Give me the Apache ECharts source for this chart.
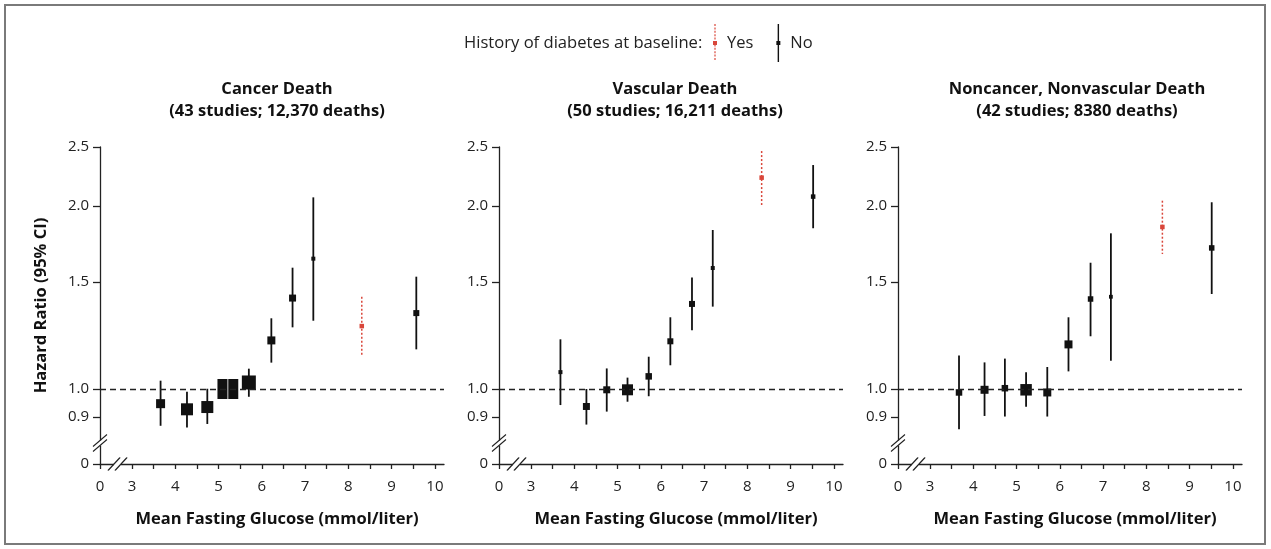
<!DOCTYPE html>
<html><head><meta charset="utf-8">
<script src="https://cdn.jsdelivr.net/npm/echarts@6/dist/echarts.min.js"></script>
<style>html,body{margin:0;padding:0;background:#fff}#c{width:1271px;height:549px}</style>
</head><body><div id="c"></div>
<script>
// ---------------- data ----------------
const panelTitles = ['Cancer Death', 'Vascular Death', 'Noncancer, Nonvascular Death'];
const panelSubtitles = ['(43 studies; 12,370 deaths)', '(50 studies; 16,211 deaths)', '(42 studies; 8380 deaths)'];
const legendTitle = 'History of diabetes at baseline:';
const legendNames = ['Yes', 'No'];
const xAxisTitle = 'Mean Fasting Glucose (mmol/liter)';
const yAxisTitle = 'Hazard Ratio (95% CI)';

// broken axes: the "0" tick is drawn just before the break
const X_ZERO = 2.26;
const Y_ZERO = 0.7528;
const xTickValues = [X_ZERO, 3, 4, 5, 6, 7, 8, 9, 10];
const xTickLabels = ['0', '3', '4', '5', '6', '7', '8', '9', '10'];
const xTickMarks = [X_ZERO, 3, 3.5, 4, 4.5, 5, 5.5, 6, 6.5, 7, 7.5, 8, 8.5, 9, 9.5, 10];
const yTickValues = [Y_ZERO, 0.9, 1.0, 1.5, 2.0, 2.5];
const yTickLabels = ['0', '0.9', '1.0', '1.5', '2.0', '2.5'];

// Cancer death
const cancerNoX  = [3.66, 4.27, 4.74, 5.09, 5.34, 5.70, 6.22, 6.71, 7.19, 9.57];
const cancerNoHR = [0.946, 0.926, 0.934, 1.000, 1.000, 1.025, 1.202, 1.411, 1.638, 1.333];
const cancerNoLo = [0.870, 0.864, 0.876, 0.970, 0.970, 0.971, 1.105, 1.263, 1.295, 1.162];
const cancerNoHi = [1.032, 0.990, 1.001, 1.030, 1.030, 1.080, 1.307, 1.583, 2.066, 1.530];
const cancerYesX  = [8.31];
const cancerYesHR = [1.269];
const cancerYesLo = [1.135];
const cancerYesHi = [1.418];

// Vascular death
const vascNoX  = [3.68, 4.28, 4.75, 5.23, 5.72, 6.22, 6.72, 7.20, 9.52];
const vascNoHR = [1.066, 0.936, 0.997, 0.997, 1.049, 1.198, 1.380, 1.581, 2.072];
const vascNoLo = [0.941, 0.874, 0.918, 0.953, 0.973, 1.094, 1.249, 1.366, 1.838];
const vascNoHi = [1.207, 1.000, 1.081, 1.044, 1.130, 1.312, 1.526, 1.826, 2.335];
const vascYesX  = [8.33];
const vascYesHR = [2.226];
const vascYesLo = [2.007];
const vascYesHi = [2.462];

// Noncancer, nonvascular death
const otherNoX  = [3.67, 4.26, 4.73, 5.22, 5.71, 6.20, 6.71, 7.18, 9.51];
const otherNoHR = [0.987, 0.997, 1.003, 0.997, 0.987, 1.184, 1.406, 1.418, 1.706];
const otherNoLo = [0.859, 0.903, 0.901, 0.935, 0.901, 1.069, 1.221, 1.113, 1.433];
const otherNoHi = [1.135, 1.106, 1.122, 1.065, 1.087, 1.312, 1.613, 1.803, 2.028];
const otherYesX  = [8.37];
const otherYesHR = [1.847];
const otherYesLo = [1.667];
const otherYesHi = [2.040];

// ---------------- styling (marker box sizes, px) ----------------
const cancerNoBox = [9, 12, 12, [10, 20], [10, 20], 14, 8, 7, 4, 6];
const vascNoBox   = [4, 7, 7, 11, 6.5, 6, 6, 4, 4.5];
const otherNoBox  = [6.5, 8, 6.5, 11.5, 8, 8, 5.5, 3.8, 5.5];
const yesBox = 4.5;

const RED = '#d9463a';
const INK = '#111';
const TXT = '#222';
const FONT = '"Open Sans", "Noto Sans", sans-serif';

const panels = [
  { no: [cancerNoX, cancerNoHR, cancerNoLo, cancerNoHi], yes: [cancerYesX, cancerYesHR, cancerYesLo, cancerYesHi], box: cancerNoBox },
  { no: [vascNoX, vascNoHR, vascNoLo, vascNoHi], yes: [vascYesX, vascYesHR, vascYesLo, vascYesHi], box: vascNoBox },
  { no: [otherNoX, otherNoHR, otherNoLo, otherNoHi], yes: [otherYesX, otherYesHR, otherYesLo, otherYesHi], box: otherNoBox }
];

const gridLefts = [100, 499, 898];
const titleCenters = [277, 675, 1077];

function errBar(color, width, dash) {
  return function (params, api) {
    const hi = api.coord([api.value(0), api.value(2)]);
    const lo = api.coord([api.value(0), api.value(1)]);
    return { type: 'line', shape: { x1: hi[0], y1: hi[1], x2: lo[0], y2: lo[1] },
      style: { stroke: color, lineWidth: width, lineDash: dash || null } };
  };
}

function labelFor(vals, labels) {
  return function (v) {
    for (let i = 0; i < vals.length; i++) if (Math.abs(vals[i] - v) < 1e-3) return labels[i];
    return '';
  };
}

// legend icons (vertical CI line with a point)
function noIcon() {
  return 'path://M1.3,0 h1.4 v38 h-1.4 Z M0,17 h4 v4 h-4 Z';
}
function yesIcon() {
  let p = 'path://M0,17 h4 v4 h-4 Z';
  for (let y = 0; y < 37; y += 3.4) p += ' M1.4,' + y.toFixed(1) + ' h1.2 v2 h-1.2 Z';
  p += ' M0,0 h0.01 v38 h-0.01 Z';
  return p;
}

const grids = [], xAxes = [], yAxes = [], series = [], titles = [];

titles.push({ text: legendTitle, left: 464, top: 35, padding: 0,
  textStyle: { fontFamily: FONT, fontSize: 16.6, fontWeight: 'normal', color: TXT } });

panels.forEach((p, i) => {
  grids.push({ left: gridLefts[i], top: 147, width: 344, height: 317 });
  titles.push({ text: panelTitles[i] + '\n' + panelSubtitles[i], left: titleCenters[i], top: 78, textAlign: 'center', padding: 0,
    textStyle: { fontFamily: FONT, fontSize: 16.5, fontWeight: 'bold', color: '#111', lineHeight: 22 } });
  xAxes.push({
    gridIndex: i, type: 'value', min: X_ZERO, max: 10.21,
    name: xAxisTitle, nameLocation: 'middle', nameGap: 47,
    nameTextStyle: { fontFamily: FONT, fontSize: 16.5, fontWeight: 'bold', color: '#111', padding: [0, 0, 0, 10] },
    axisLine: { show: true, lineStyle: { color: TXT, width: 1.3 } },
    axisTick: { show: true, length: 5, lineStyle: { color: TXT, width: 1.3 }, customValues: xTickMarks },
    axisLabel: { show: true, margin: 15, fontFamily: FONT, fontSize: 15, color: TXT,
      customValues: xTickValues, formatter: labelFor(xTickValues, xTickLabels) },
    splitLine: { show: false }
  });
  yAxes.push({
    gridIndex: i, type: 'log', logBase: 10, min: Y_ZERO, max: 2.5,
    name: i === 0 ? yAxisTitle : '', nameLocation: 'middle', nameGap: 50,
    nameTextStyle: { fontFamily: FONT, fontSize: 16.5, fontWeight: 'bold', color: '#111' },
    axisLine: { show: true, lineStyle: { color: TXT, width: 1.3 } },
    axisTick: { show: true, length: 7, lineStyle: { color: TXT, width: 1.3 }, customValues: yTickValues },
    axisLabel: { show: true, margin: 11, fontFamily: FONT, fontSize: 15, color: TXT,
      customValues: yTickValues, formatter: labelFor(yTickValues, yTickLabels) },
    splitLine: { show: false }, minorSplitLine: { show: false }
  });

  const [nx, nhr, nlo, nhi] = p.no;
  const [yx, yhr, ylo, yhi] = p.yes;

  series.push({
    type: 'custom', name: 'ciNo', xAxisIndex: i, yAxisIndex: i, z: 2, silent: true,
    renderItem: errBar(INK, 1.8),
    encode: { x: 0, y: [1, 2] },
    data: nx.map((x, k) => [x, nlo[k], nhi[k]]),
    markLine: { silent: true, symbol: ['none', 'none'], label: { show: false },
      lineStyle: { color: TXT, width: 1.3, type: [6, 4] }, data: [{ yAxis: 1 }] }
  });
  series.push({
    type: 'custom', name: 'ciYes', xAxisIndex: i, yAxisIndex: i, z: 2, silent: true,
    renderItem: errBar(RED, 1.5, [2, 2]),
    encode: { x: 0, y: [1, 2] },
    data: yx.map((x, k) => [x, ylo[k], yhi[k]])
  });
  series.push({
    type: 'scatter', name: 'No', xAxisIndex: i, yAxisIndex: i, z: 3, silent: true,
    symbol: 'rect', itemStyle: { color: INK, opacity: 1 },
    data: nx.map((x, k) => ({ value: [x, nhr[k]], symbolSize: p.box[k] }))
  });
  series.push({
    type: 'scatter', name: 'Yes', xAxisIndex: i, yAxisIndex: i, z: 3, silent: true,
    symbol: 'rect', symbolSize: yesBox, itemStyle: { color: RED, opacity: 1 },
    data: yx.map((x, k) => [x, yhr[k]])
  });
  // axis-break markers, placed in data space on the two axes
  series.push({
    type: 'scatter', name: 'breakGap', xAxisIndex: i, yAxisIndex: i, z: 5, silent: true, clip: false,
    symbol: 'rect', itemStyle: { color: '#fff', opacity: 1 },
    data: [{ value: [X_ZERO, 0.815], symbolSize: [5, 5] }, { value: [2.665, Y_ZERO], symbolSize: [7, 5] }]
  });
  series.push({
    type: 'scatter', name: 'breakMark', xAxisIndex: i, yAxisIndex: i, z: 6, silent: true, clip: false,
    itemStyle: { color: 'none', borderColor: TXT, borderWidth: 1.3, opacity: 1 },
    data: [
      { value: [X_ZERO, 0.815], symbol: 'path://M0,12 L14,0 M0,17 L14,5', symbolSize: [14, 17] },
      { value: [2.665, Y_ZERO], symbol: 'path://M0,13 L12,0 M7,13 L19,0', symbolSize: [19, 13] }
    ]
  });
});

const chart = echarts.init(document.getElementById('c'), null, { renderer: 'canvas' });
chart.setOption({
  backgroundColor: '#fff',
  animation: false,
  title: titles,
  legend: {
    left: 713, top: 24, padding: 0, itemWidth: 4, itemHeight: 38, itemGap: 23, selectedMode: false,
    textStyle: { fontFamily: FONT, fontSize: 16.5, color: TXT, padding: [0, 0, 0, 5] },
    data: [
      { name: legendNames[0], icon: yesIcon(), itemStyle: { color: RED } },
      { name: legendNames[1], icon: noIcon(), itemStyle: { color: INK } }
    ]
  },
  grid: grids,
  xAxis: xAxes,
  yAxis: yAxes,
  series: series,
  graphic: [{ type: 'rect', shape: { x: 5, y: 5, width: 1260, height: 539 },
    style: { fill: 'none', stroke: '#7a7a7a', lineWidth: 2 }, silent: true, z: 100 }]
});
</script>
</body></html>
